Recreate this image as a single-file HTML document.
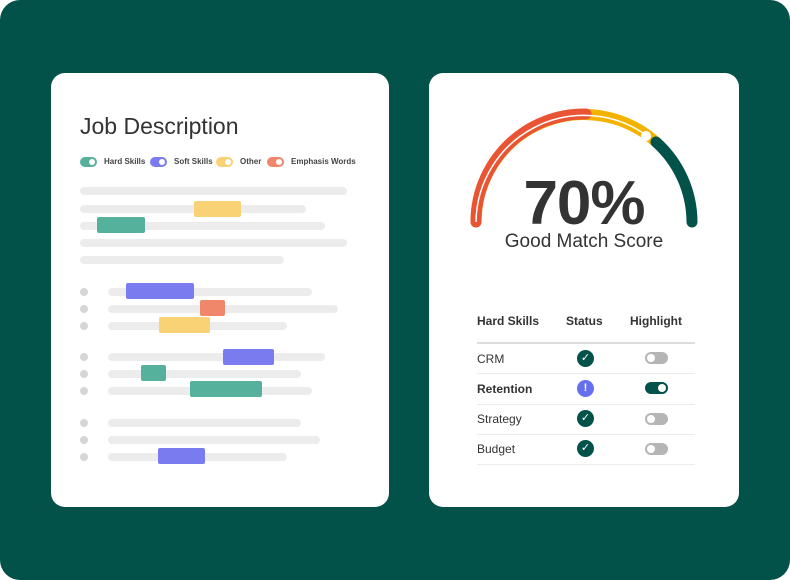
<!DOCTYPE html><html><head><style>
body{margin:0;width:790px;height:580px;background:#fff;font-family:"Liberation Sans",sans-serif;}
.bg{position:absolute;left:0;top:0;width:790px;height:580px;background:#02524a;border-radius:20px;}
.card{position:absolute;background:#fff;border-radius:14px;top:73px;height:434px;}
.l{position:absolute;height:8px;border-radius:4px;background:#ececec;}
.h{position:absolute;height:16px;border-radius:2px;}
.d{position:absolute;width:8px;height:8px;border-radius:4px;background:#d6d6d6;left:80px;}
.t{position:absolute;font-size:12px;color:#333;}
.sep{position:absolute;left:477px;width:218px;height:1px;background:#ececec;}
.ck{position:absolute;width:17px;height:17px;border-radius:50%;background:#02524a;color:#fff;font-size:11px;text-align:center;line-height:17px;left:577px;}
.tg{position:absolute;left:645px;width:23px;height:12px;border-radius:6px;background:#b5b5b5;}
.tg:after{content:"";position:absolute;left:2px;top:2px;width:8px;height:8px;border-radius:50%;background:#fff;}
.lg{position:absolute;top:157px;width:17px;height:10px;border-radius:5px;}
.lg:after{content:"";position:absolute;right:2px;top:2px;width:6px;height:6px;border-radius:50%;background:#fff;}
.lt{position:absolute;top:157px;font-size:8px;color:#444;font-weight:bold;}
</style></head><body>
<div class="bg"></div>
<div class="card" style="left:51px;width:338px"></div>
<div class="card" style="left:429px;width:310px"></div>
<div style="position:absolute;left:80px;top:113px;font-size:23px;color:#333">Job Description</div>
<div class="lg" style="left:80px;background:#55b09c"></div><div class="lt" style="left:104px">Hard Skills</div>
<div class="lg" style="left:150px;background:#7b7bf0"></div><div class="lt" style="left:174px">Soft Skills</div>
<div class="lg" style="left:216px;background:#f8d274"></div><div class="lt" style="left:240px">Other</div>
<div class="lg" style="left:267px;background:#f0876a"></div><div class="lt" style="left:291px">Emphasis Words</div>

<div class="l" style="left:80px;top:187px;width:267px"></div>
<div class="l" style="left:80px;top:205px;width:226px"></div>
<div class="l" style="left:80px;top:222px;width:245px"></div>
<div class="l" style="left:80px;top:239px;width:267px"></div>
<div class="l" style="left:80px;top:256px;width:204px"></div>
<div class="h" style="left:194px;top:201px;width:47px;background:#f8d274"></div>
<div class="h" style="left:97px;top:217px;width:48px;background:#55b09c"></div>

<div class="d" style="top:288px"></div><div class="l" style="left:108px;top:288px;width:204px"></div>
<div class="d" style="top:305px"></div><div class="l" style="left:108px;top:305px;width:230px"></div>
<div class="d" style="top:322px"></div><div class="l" style="left:108px;top:322px;width:179px"></div>
<div class="h" style="left:126px;top:283px;width:68px;background:#7b7bf0"></div>
<div class="h" style="left:200px;top:300px;width:25px;background:#f0876a"></div>
<div class="h" style="left:159px;top:317px;width:51px;background:#f8d274"></div>

<div class="d" style="top:353px"></div><div class="l" style="left:108px;top:353px;width:217px"></div>
<div class="d" style="top:370px"></div><div class="l" style="left:108px;top:370px;width:193px"></div>
<div class="d" style="top:387px"></div><div class="l" style="left:108px;top:387px;width:204px"></div>
<div class="h" style="left:223px;top:349px;width:51px;background:#7b7bf0"></div>
<div class="h" style="left:141px;top:365px;width:25px;background:#55b09c"></div>
<div class="h" style="left:190px;top:381px;width:72px;background:#55b09c"></div>

<div class="d" style="top:419px"></div><div class="l" style="left:108px;top:419px;width:193px"></div>
<div class="d" style="top:436px"></div><div class="l" style="left:108px;top:436px;width:212px"></div>
<div class="d" style="top:453px"></div><div class="l" style="left:108px;top:453px;width:179px"></div>
<div class="h" style="left:158px;top:448px;width:47px;background:#7b7bf0"></div>

<svg style="position:absolute;left:0;top:0" width="790" height="580">
<g fill="none" stroke-linecap="round" stroke-width="11">
<path d="M476 222 A108 108 0 0 1 656 142" stroke="#f3b300"/>
<path d="M656 142 A108 108 0 0 1 692 222" stroke="#02524a"/>
<path d="M476 222 A108 108 0 0 1 586 114" stroke="#e85434"/>
</g>
<path d="M476 222 A108 108 0 0 1 646 135" fill="none" stroke="#fff" stroke-width="1.5"/>
<circle cx="646" cy="136" r="5" fill="#fff"/>
</svg>
<div style="position:absolute;left:440px;width:288px;text-align:center;top:168px;font-size:62px;font-weight:bold;color:#333;letter-spacing:-1px">70%</div>
<div style="position:absolute;left:440px;width:288px;text-align:center;top:231px;font-size:19px;color:#333">Good Match Score</div>

<div class="t" style="left:477px;top:314px;font-weight:bold">Hard Skills</div>
<div class="t" style="left:566px;top:314px;font-weight:bold">Status</div>
<div class="t" style="left:630px;top:314px;font-weight:bold">Highlight</div>
<div class="sep" style="top:342px;height:2px;background:#ddd"></div>
<div class="t" style="left:477px;top:352px">CRM</div>
<div class="t" style="left:477px;top:382px;font-weight:bold">Retention</div>
<div class="t" style="left:477px;top:412px">Strategy</div>
<div class="t" style="left:477px;top:442px">Budget</div>
<div class="sep" style="top:373px"></div><div class="sep" style="top:404px"></div><div class="sep" style="top:434px"></div><div class="sep" style="top:464px"></div>
<div class="ck" style="top:350px">✓</div>
<div class="ck" style="top:380px;background:#6470ee;font-weight:bold">!</div>
<div class="ck" style="top:410px">✓</div>
<div class="ck" style="top:440px">✓</div>
<div class="tg" style="top:352px"></div>
<div class="tg" style="top:382px;background:#02524a"><span></span></div>
<div class="tg" style="top:413px"></div>
<div class="tg" style="top:443px"></div>
<style>.tg[style*="02524a"]:after{left:13px}</style>
</body></html>
